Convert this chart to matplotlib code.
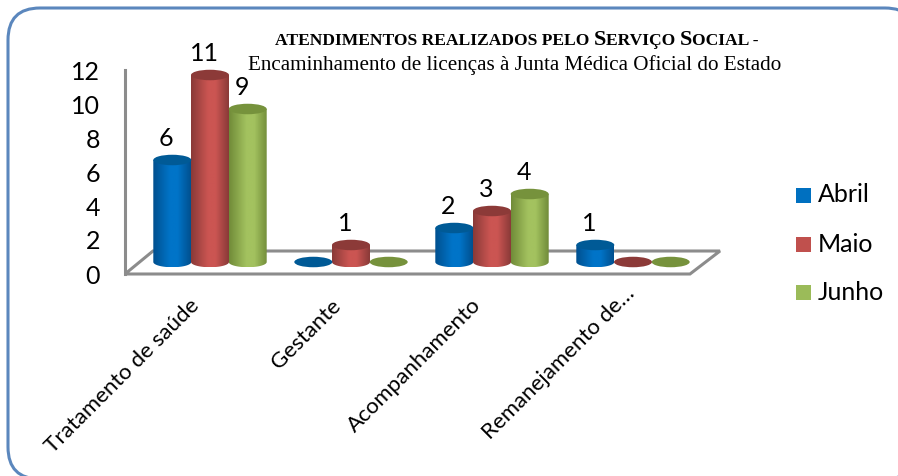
import numpy as np
import matplotlib
matplotlib.use("Agg")
import matplotlib.pyplot as plt
from matplotlib.colors import LinearSegmentedColormap
from matplotlib.patches import Ellipse, PathPatch, Rectangle
from matplotlib.path import Path

plt.rcParams['font.family'] = ['Lato', 'DejaVu Sans']

# data
categories = ["Tratamento de saúde", "Gestante", "Acompanhamento", "Remanejamento de…"]
months = ["Abril", "Maio", "Junho"]
abril = [6, 0, 2, 1]
maio = [11, 1, 3, 0]
junho = [9, 0, 4, 0]
series = [abril, maio, junho]
y_ticks = [0, 2, 4, 6, 8, 10, 12]

# edge, middle, top cap
colors = [("#00508f", "#0074c8", "#005a96"),
          ("#8a3a38", "#cb5552", "#8c3a38"),
          ("#718c39", "#a3c25f", "#76923c")]
legend_colors = ["#0070c0", "#c0504d", "#9bbb59"]

W, H = 898, 476
fig = plt.figure(figsize=(W / 100, H / 100), dpi=100)

# pixel layer for frame and floor
bg = fig.add_axes([0, 0, 1, 1])
bg.set_xlim(0, W)
bg.set_ylim(H, 0)
bg.axis("off")

# rounded frame, the right and bottom sides run off the picture
L, T, R, B, r = 8, 8, 917, 479, 32
codes = [Path.MOVETO, Path.LINETO, Path.CURVE3, Path.CURVE3, Path.LINETO, Path.CURVE3, Path.CURVE3,
         Path.LINETO, Path.CURVE3, Path.CURVE3, Path.LINETO, Path.CURVE3, Path.CURVE3, Path.CLOSEPOLY]
frame = Path([(L + r, T), (R - r, T), (R, T), (R, T + r), (R, B - r), (R, B), (R - r, B),
              (L + r, B), (L, B), (L, B - r), (L, T + r), (L, T), (L + r, T), (L + r, T)], codes)
bg.add_patch(PathPatch(frame, fc="white", ec="#5b87bd", lw=2.2))

grey = "#8c8c8c"
floor = Path([(125, 274), (153, 251), (720, 251), (690, 274), (125, 274)])
bg.add_patch(PathPatch(floor, fc="none", ec=grey, lw=2.2, joinstyle="miter"))

# data layer, y=0 sits on the floor at pixel 262, 17 px per unit, 141 px per category
x0, px_x = 210, 141
y0, px_y = 262, 17
ax = fig.add_axes([0, 0, 1, 1], facecolor="none")
ax.axis("off")

bar_w = 38 / px_x
step = 37.7 / px_x
cap_h = 10.5 / px_y


def cylinder(xc, val, cols):
    left, right = xc - bar_w / 2, xc + bar_w / 2
    if val > 0:
        cmap = LinearSegmentedColormap.from_list(
            "c", [(0, cols[0]), (0.45, cols[1]), (0.65, cols[1]), (1, cols[0])])
        im = ax.imshow(np.linspace(0, 1, 64).reshape(1, -1), cmap=cmap, aspect="auto",
                       extent=(left, right, -cap_h / 2, val), zorder=3, interpolation="bilinear")
        # clip to body plus rounded bottom
        t = np.linspace(np.pi, 2 * np.pi, 40)
        arc = np.column_stack([xc + bar_w / 2 * np.cos(t), cap_h / 2 * np.sin(t)])
        outline = np.vstack([arc, [[right, val], [left, val], arc[0]]])
        clip = PathPatch(Path(outline), transform=ax.transData, fc="none", ec="none")
        ax.add_patch(clip)
        im.set_clip_path(clip)
    ax.add_patch(Ellipse((xc, val), bar_w, cap_h, fc=cols[2], ec="none", zorder=4))


for i, vals in enumerate(series):
    for j, v in enumerate(vals):
        xc = j + (i - 1) * step
        cylinder(xc, v, colors[i])
        if v > 0:
            ax.annotate(str(v), (xc, v), xytext=(-4.3, 15.5), textcoords="offset points",
                        ha="center", va="center", fontsize=18, color="black", zorder=6)
ax.set_xlim(-x0 / px_x, (W - x0) / px_x)
ax.set_ylim(-(H - y0) / px_y, y0 / px_y)

# category labels, the cut one sits a bit higher
label_offsets = [(-15, -24), (-15, -24), (-15, -24), (-6, -15.5)]
for j, name in enumerate(categories):
    ax.annotate(name, (j, 0), xytext=label_offsets[j], textcoords="offset points", rotation=45,
                rotation_mode="anchor", ha="right", va="top", fontsize=16, color="black")

# value axis
ay = fig.add_axes([125 / W, 1 - 274 / H, 0.001, 204 / H], facecolor="none")
ay.set_xlim(0, 1)
ay.set_ylim(0, 12)
ay.set_yticks(y_ticks)
ay.set_xticks([])
for s in ("top", "right", "bottom"):
    ay.spines[s].set_visible(False)
ay.spines["left"].set_color(grey)
ay.spines["left"].set_linewidth(2.2)
ay.tick_params(axis="y", length=0, pad=18, labelsize=18)

# legend
for name, c, py in zip(months, legend_colors, [195, 244, 292]):
    bg.add_patch(Rectangle((796, py - 7), 15, 15, fc=c, ec="none"))
    bg.text(818, py, name, fontsize=18, va="center", ha="left", color="black", zorder=6)

# title, small caps pieces laid end to end
pieces = [("ATENDIMENTOS REALIZADOS PELO ", 12.6), ("S", 16), ("ERVIÇO ", 12.6), ("S", 16), ("OCIAL -", 12.6)]
fig.canvas.draw()
rend = fig.canvas.get_renderer()
tx = 275
for txt, size in pieces:
    t = bg.text(tx, 45, txt, fontsize=size, fontweight="bold", family="Liberation Serif",
                ha="left", va="baseline", color="black", zorder=6)
    tx += t.get_window_extent(rend).width
bg.text(515, 65, "Encaminhamento de licenças à Junta Médica Oficial do Estado", fontsize=15.2,
        family="Liberation Serif", ha="center", va="center", color="black", zorder=6)

fig.savefig("out.png", dpi=100)
